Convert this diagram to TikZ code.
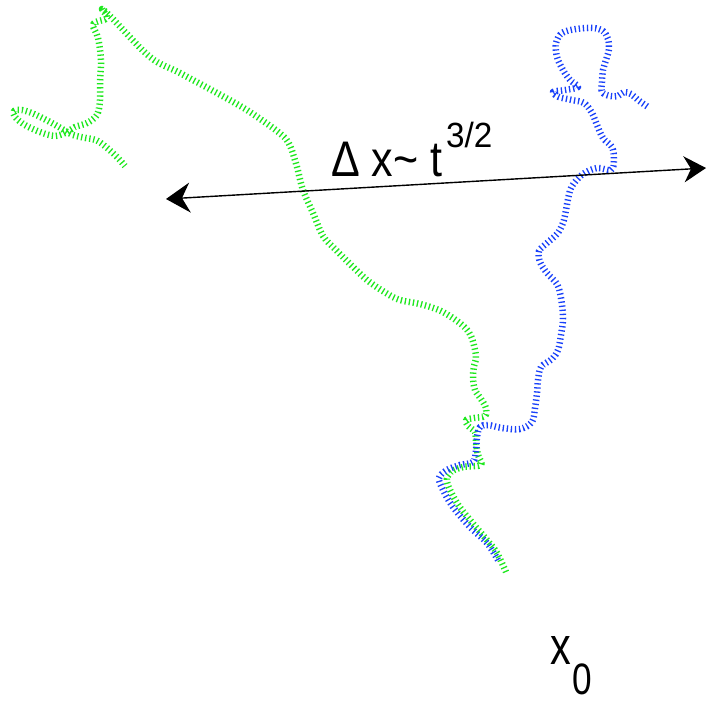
\documentclass[tikz,border=0pt]{standalone}
\usepackage{fontspec}
\setmainfont{Liberation Sans}
\usetikzlibrary{arrows.meta}
\definecolor{walkgreen}{RGB}{30,232,30}
\definecolor{walkblue}{RGB}{25,65,250}
\tikzset{
  walk/.style={line width=6.5pt, dash pattern=on 1.3pt off 2.8pt, line cap=butt, line join=round},
}
\begin{document}
\begin{tikzpicture}[x=1pt,y=-1pt]
\useasboundingbox[fill=white] (0,0) rectangle (707,702);
% green walk
\draw[walk, walkgreen] plot[smooth, tension=0.55] coordinates {
 (506,572) (497,553) (487,540) (470,520) (457,503) (447,482) (451,472) (463,467)
 (481,465) (478,455) (476,443) (475,432) (468,426) (466,420) (474,418) (485,416)
 (486,408) (481,399) (475,390) (473,378) (474,366) (476,356) (471,336) (461,324)
 (441,311) (420,304) (400,300) (386,293) (367,280) (347,261) (335,249) (323,236)
 (313,213) (303,190) (297,167) (291,148) (286,139) (277,131) (266,123) (253,114)
 (242,107) (217,93) (180,73) (150,57) (112,18) (102,9) (107,18) (96,22) (93,26)
 (98,38) (101,60) (100,83) (100,100) (97,115) (87,123) (75,127) (67,132)
 (55,136) (40,132) (25,125) (15,117) (14,111) (22,110) (34,114) (50,122)
 (64,130) (73,135) (86,138) (96,140) (106,147) (117,157) (125,166)
};
% blue walk
\draw[walk, walkblue] plot[smooth, tension=0.55] coordinates {
 (498,560) (487,543) (470,527) (453,507) (443,490) (439,478) (447,470) (460,465)
 (473,462) (476,450) (477,437) (480,427) (488,425) (502,428) (520,429) (532,422)
 (535,408) (537,393) (538,380) (541,367) (552,359) (558,350) (561,335) (563,318)
 (561,298) (557,284) (547,273) (540,262) (539,251) (547,243) (557,234) (563,223)
 (566,210) (568,199) (572,186) (583,174) (597,168) (611,170) (614,160) (612,147)
 (603,138) (597,125) (592,113) (584,103) (572,100) (559,97) (553,92) (565,90)
 (578,87) (570,80) (563,70) (557,57) (556,43) (562,33) (576,29) (593,28)
 (603,31) (608,39) (609,49) (606,60) (603,70) (602,82) (602,92) (610,96)
 (618,96) (624,92) (631,94) (638,100) (648,107)
};
% arrow
\coordinate (L) at (166,199);
\coordinate (R) at (706,168);
\draw[line width=1.4pt, {Stealth[length=24pt,width=30pt,inset=8pt]}-{Stealth[length=22pt,width=26pt,inset=7pt]}] (L) -- (R);
% labels
\node (dx) [inner sep=0pt, anchor=base west, font=\fontsize{50}{50}\selectfont] at (331,176)
  {\scalebox{0.86}[1]{Δ x\textasciitilde\ t}};
\node (pw) [inner sep=0pt, anchor=base west, font=\fontsize{35}{35}\selectfont] at (446,147)
  {\scalebox{0.95}[1]{3/2}};
\node (xx) [inner sep=0pt, anchor=base west, font=\fontsize{53}{53}\selectfont] at (550,664)
  {\scalebox{0.78}[1]{x}};
\node (x0) [inner sep=0pt, anchor=base west, font=\fontsize{44}{44}\selectfont] at (572,694)
  {\scalebox{0.8}[1]{0}};
\end{tikzpicture}
\end{document}
